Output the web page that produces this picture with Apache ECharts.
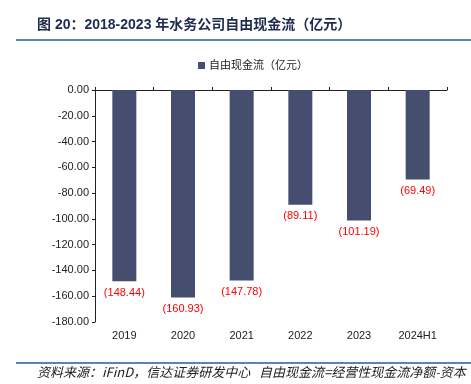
<!DOCTYPE html>
<html>
<head>
<meta charset="utf-8">
<script src="https://cdn.jsdelivr.net/npm/echarts@6/dist/echarts.min.js"></script>
<style>html,body{margin:0;padding:0;background:#fff;}#c{width:471px;height:384px;}</style>
</head>
<body>
<div id="c"></div>
<script>
var categories = ['2019', '2020', '2021', '2022', '2023', '2024H1'];
var freeCashFlow = [-148.44, -160.93, -147.78, -89.11, -101.19, -69.49];
var seriesName = '自由现金流（亿元）';
var titleText = '图 20：2018-2023 年水务公司自由现金流（亿元）';
var sourceText = '资料来源：iFinD，信达证券研发中心   自由现金流=经营性现金流净额-资本';

var chart = echarts.init(document.getElementById('c'), null, {renderer: 'canvas'});
var font = '"Liberation Sans", Arial, "Noto Sans CJK SC", sans-serif';
chart.setOption({
  backgroundColor: '#fff',
  animation: false,
  textStyle: {fontFamily: font},
  graphic: [
    {type: 'text', left: 37, top: 18, style: {text: titleText, font: 'bold 14px ' + font, fill: '#1c2b4f'}},
    {type: 'rect', shape: {x: 16, y: 39, width: 455, height: 2}, style: {fill: '#5b84b1'}},
    {type: 'rect', shape: {x: 16, y: 362, width: 455, height: 2}, style: {fill: '#5b84b1'}},
    {type: 'text', left: 37, top: 366, style: {text: sourceText, font: 'italic 13px "Noto Sans CJK SC", sans-serif', fill: '#222'}}
  ],
  legend: {
    left: 193, top: 55,
    itemWidth: 7, itemHeight: 7, itemGap: 4,
    icon: 'rect',
    textStyle: {fontSize: 11, color: '#222', padding: [0, 0, 0, -1]},
    data: [seriesName]
  },
  grid: {left: 95, right: 24, top: 90, bottom: 62, containLabel: false},
  xAxis: [
    {
      type: 'category', data: categories, position: 'top',
      axisLine: {show: true, onZero: false, lineStyle: {color: '#222', width: 1}},
      axisTick: {show: true, length: 3, alignWithLabel: false, lineStyle: {color: '#222'}},
      axisLabel: {show: false}
    },
    {
      type: 'category', data: categories, position: 'bottom',
      axisLine: {show: false}, axisTick: {show: false},
      axisLabel: {show: true, margin: 8, fontSize: 11, color: '#222'}
    }
  ],
  yAxis: {
    type: 'value', min: -180, max: 0, interval: 20,
    axisLine: {show: true, lineStyle: {color: '#222'}},
    axisTick: {show: true, length: 3, lineStyle: {color: '#222'}},
    splitLine: {show: false},
    axisLabel: {fontSize: 11, color: '#222', margin: 6, formatter: function (v) { return v.toFixed(2); }}
  },
  series: [{
    name: seriesName, type: 'bar', data: freeCashFlow, barWidth: 24, xAxisIndex: 0,
    itemStyle: {color: '#454e6e'},
    label: {
      show: true, position: 'bottom', distance: 6, fontSize: 11, color: '#ff0000',
      formatter: function (p) { return '(' + Math.abs(p.value).toFixed(2) + ')'; }
    }
  }]
});
</script>
</body>
</html>
